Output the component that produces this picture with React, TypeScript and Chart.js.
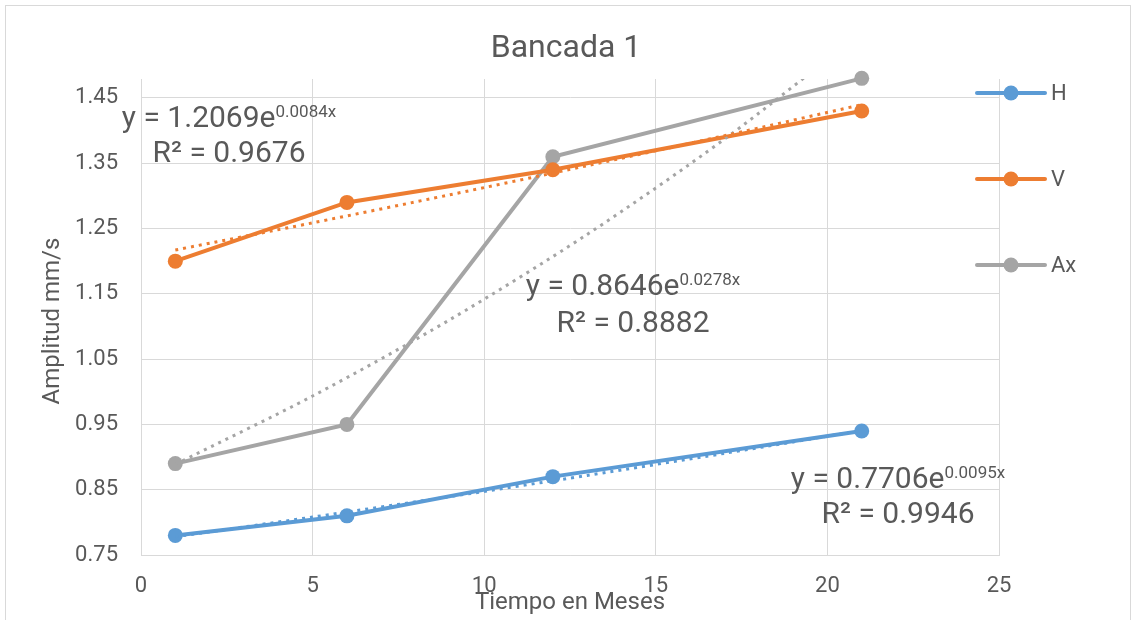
import React, { useEffect, useRef } from "react";
import { Chart, registerables } from "chart.js";

Chart.register(...registerables);

const xMonths = [1, 6, 12, 21];
const seriesH = [0.78, 0.81, 0.87, 0.94];
const seriesV = [1.2, 1.29, 1.34, 1.43];
const seriesAx = [0.89, 0.95, 1.36, 1.48];

const trendX = [1, 5, 9, 13, 17, 21];
const trendH = [0.778, 0.8081, 0.8394, 0.8719, 0.9057, 0.9407];
const trendV = [1.2171, 1.2587, 1.3017, 1.3462, 1.3922, 1.4397];
const trendAx = [0.8889, 0.9935, 1.1104, 1.241, 1.3869, 1.5501];

const yTicks = [0.75, 0.85, 0.95, 1.05, 1.15, 1.25, 1.35, 1.45];
const seriesNames = ["H", "V", "Ax"];
const colors = ["#5b9bd5", "#ed7d31", "#a5a5a5"];

const eqH = { coef: "0.7706", exp: "0.0095x", r2: "0.9946" };
const eqV = { coef: "1.2069", exp: "0.0084x", r2: "0.9676" };
const eqAx = { coef: "0.8646", exp: "0.0278x", r2: "0.8882" };

const TITLE = "Bancada 1";
const X_TITLE = "Tiempo en Meses";
const Y_TITLE = "Amplitud mm/s";

const FONT = "Roboto, 'Open Sans', sans-serif";
const TEXT = "#595959";
const GRID = "#d9d9d9";

function pts(xs: number[], ys: number[]) {
  return xs.map((x, i) => ({ x, y: ys[i] }));
}

function drawEq(ctx: CanvasRenderingContext2D, cx: number, b1: number, b2: number, eq: { coef: string; exp: string; r2: string }) {
  ctx.save();
  ctx.fillStyle = TEXT;
  ctx.textBaseline = "alphabetic";
  ctx.textAlign = "left";
  const main = "y = " + eq.coef + "e";
  ctx.font = `30px ${FONT}`;
  const w1 = ctx.measureText(main).width;
  ctx.font = `17px ${FONT}`;
  const w2 = ctx.measureText(eq.exp).width;
  const x0 = cx - (w1 + w2) / 2;
  ctx.font = `30px ${FONT}`;
  ctx.fillText(main, x0, b1);
  ctx.font = `17px ${FONT}`;
  ctx.fillText(eq.exp, x0 + w1, b1 - 10);
  ctx.font = `30px ${FONT}`;
  ctx.textAlign = "center";
  ctx.fillText("R² = " + eq.r2, cx, b2);
  ctx.restore();
}

const overlayPlugin = {
  id: "overlay",
  beforeDraw(chart: any) {
    const ctx = chart.ctx as CanvasRenderingContext2D;
    ctx.save();
    ctx.fillStyle = "#ffffff";
    ctx.fillRect(0, 0, chart.width, chart.height);
    ctx.strokeStyle = GRID;
    ctx.lineWidth = 1;
    ctx.strokeRect(5.5, 5.5, 1125, 700);
    ctx.restore();
  },
  afterDraw(chart: any) {
    const ctx = chart.ctx as CanvasRenderingContext2D;
    ctx.save();
    ctx.fillStyle = TEXT;
    ctx.textAlign = "center";
    ctx.textBaseline = "middle";
    ctx.font = `32px ${FONT}`;
    ctx.fillText(TITLE, 566, 49);
    ctx.font = `24px ${FONT}`;
    ctx.fillText(X_TITLE, 570, 603);
    ctx.save();
    ctx.translate(53, 321);
    ctx.rotate(-Math.PI / 2);
    ctx.fillText(Y_TITLE, 0, 0);
    ctx.restore();

    // legend
    const ly = [93, 179, 265];
    seriesNames.forEach((name, i) => {
      ctx.strokeStyle = colors[i];
      ctx.lineWidth = 4;
      ctx.lineCap = "round";
      ctx.beginPath();
      ctx.moveTo(977, ly[i]);
      ctx.lineTo(1045, ly[i]);
      ctx.stroke();
      ctx.fillStyle = colors[i];
      ctx.beginPath();
      ctx.arc(1011, ly[i], 7.5, 0, Math.PI * 2);
      ctx.fill();
      ctx.fillStyle = TEXT;
      ctx.textAlign = "left";
      ctx.font = `22px ${FONT}`;
      ctx.fillText(name, 1051, ly[i] + 1);
    });
    ctx.restore();

    drawEq(ctx, 229, 127, 162, eqV);
    drawEq(ctx, 633, 295, 332, eqAx);
    drawEq(ctx, 898, 488, 523, eqH);
  },
};

export default function App() {
  const ref = useRef<HTMLCanvasElement | null>(null);

  useEffect(() => {
    if (!ref.current) return;
    const trendStyle = (c: string) => ({
      borderColor: c,
      backgroundColor: c,
      borderWidth: 3,
      borderDash: [3, 5],
      pointRadius: 0,
      fill: false,
      tension: 0.3,
    });
    const seriesStyle = (c: string) => ({
      borderColor: c,
      backgroundColor: c,
      borderWidth: 4,
      pointRadius: 7.5,
      pointBackgroundColor: c,
      pointBorderWidth: 0,
      fill: false,
      tension: 0,
      clip: false,
    });
    const chart = new Chart(ref.current, {
      type: "line",
      data: {
        datasets: [
          { label: "H trend", data: pts(trendX, trendH), ...trendStyle(colors[0]) },
          { label: "V trend", data: pts(trendX, trendV), ...trendStyle(colors[1]) },
          { label: "Ax trend", data: pts(trendX, trendAx), ...trendStyle(colors[2]) },
          { label: seriesNames[0], data: pts(xMonths, seriesH), ...seriesStyle(colors[0]) },
          { label: seriesNames[1], data: pts(xMonths, seriesV), ...seriesStyle(colors[1]) },
          { label: seriesNames[2], data: pts(xMonths, seriesAx), ...seriesStyle(colors[2]) },
        ] as any,
      },
      options: {
        responsive: false,
        animation: false,
        devicePixelRatio: 1,
        layout: { padding: { left: 0, right: 134, top: 79, bottom: 0 } },
        plugins: { legend: { display: false }, tooltip: { enabled: false }, title: { display: false } },
        scales: {
          x: {
            type: "linear",
            min: 0,
            max: 25,
            ticks: { stepSize: 5, color: TEXT, font: { family: FONT, size: 22 }, padding: 18 },
            grid: { color: GRID, lineWidth: 1, drawTicks: false },
            border: { color: GRID, width: 1 },
            afterFit: (s: any) => { s.height = 65; },
          },
          y: {
            type: "linear",
            min: 0.75,
            max: 1.479,
            afterBuildTicks: (s: any) => { s.ticks = yTicks.map((v) => ({ value: v })); },
            ticks: {
              color: TEXT,
              font: { family: FONT, size: 22 },
              padding: 23,
              callback: (v: any) => Number(v).toFixed(2),
            },
            grid: { color: GRID, lineWidth: 1, drawTicks: false },
            border: { color: GRID, width: 1 },
            afterFit: (s: any) => { s.width = 141; },
          },
        },
      } as any,
      plugins: [overlayPlugin],
    });
    return () => chart.destroy();
  }, []);

  return (
    <div style={{ position: "fixed", left: 0, top: 0, width: 1133, height: 620, background: "#fff" }}>
      <canvas ref={ref} width={1133} height={620} style={{ display: "block" }} />
    </div>
  );
}
